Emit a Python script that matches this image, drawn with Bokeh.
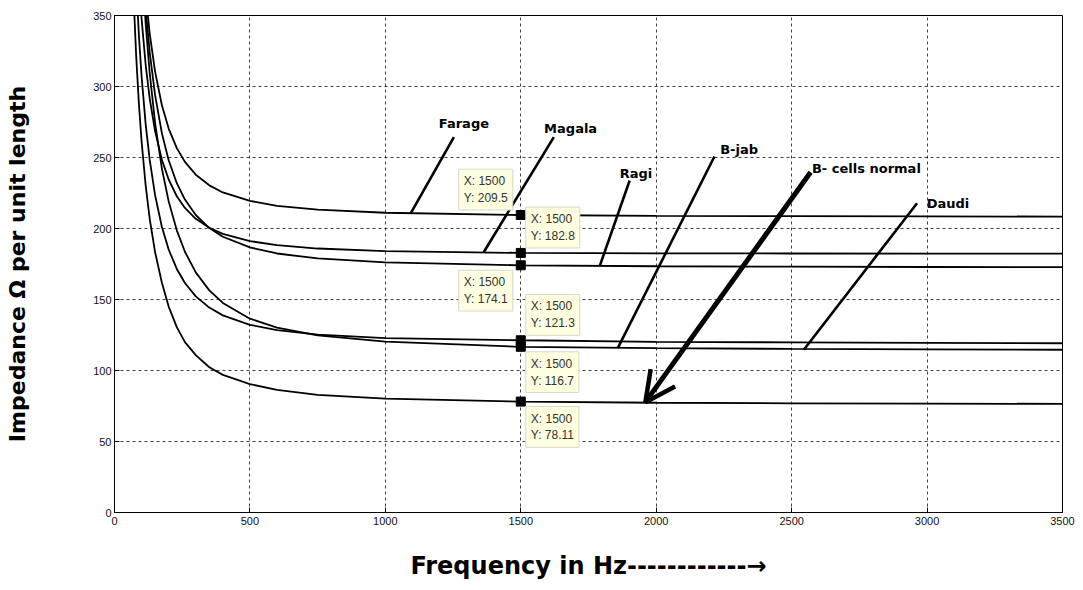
from bokeh.plotting import figure
from bokeh.models import Range1d, Label, Arrow, OpenHead, FixedTicker
from bokeh.embed import file_html
from bokeh.resources import INLINE
from bokeh.core.properties import value

# ---------------- data ----------------
freq = [50, 60, 70, 80, 90, 100, 115, 130, 150, 175, 200, 230, 260, 300, 350,
        400, 500, 600, 750, 1000, 1500, 2000, 2500, 3000, 3500]

farage = [720.7, 611.5, 535.1, 478.9, 436.2, 403.0, 365.2, 337.3, 310.3, 286.8,
          270.4, 256.6, 246.9, 237.9, 230.4, 225.4, 219.4, 216.0, 213.3, 211.1,
          209.5, 208.9, 208.7, 208.5, 208.4]
magala = [619.8, 526.2, 460.6, 412.6, 376.0, 347.6, 315.3, 291.5, 268.4, 248.3,
          234.5, 222.7, 214.5, 206.8, 200.5, 196.2, 191.1, 188.3, 185.9, 184.1,
          182.8, 182.5, 182.4, 182.3, 182.3]
ragi = [733.8, 618.8, 537.8, 478.0, 432.1, 396.1, 354.9, 324.0, 293.7, 267.0,
        248.1, 231.9, 220.4, 209.5, 200.3, 194.2, 186.7, 182.4, 178.9, 176.2,
        174.1, 173.4, 173.1, 172.9, 172.8]
bjab = [578.3, 486.4, 421.4, 373.2, 336.3, 307.1, 273.5, 248.3, 223.3, 201.1,
        185.2, 171.5, 161.6, 152.2, 144.3, 138.8, 132.2, 128.5, 125.3, 122.8,
        121.3, 120.2, 119.8, 119.5, 119.2]
daudi = [756.1, 633.2, 546.0, 480.9, 430.6, 390.8, 344.5, 309.4, 274.1, 242.2,
         219.1, 198.7, 183.6, 169.1, 156.4, 147.6, 136.5, 130.2, 124.7, 120.3,
         116.7, 115.8, 115.2, 114.9, 114.6]
bcells = [505.8, 423.5, 365.1, 321.6, 288.0, 261.3, 230.3, 206.8, 183.2, 161.8,
          145.0, 130.5, 120.0, 110.8, 102.3, 96.9, 90.4, 86.4, 82.9, 80.2,
          78.11, 77.3, 76.9, 76.7, 76.5]

x_ticks = [0, 500, 1000, 1500, 2000, 2500, 3000, 3500]
y_ticks = [0, 50, 100, 150, 200, 250, 300, 350]

# data tips at f = 1500
tip_x = 1500
tip_y = [209.5, 182.8, 174.1, 121.3, 116.7, 78.11]
tip_y_text = ["209.5", "182.8", "174.1", "121.3", "116.7", "78.11"]
tip_side = ["left", "right", "left", "right", "right", "right"]
tip_vert = ["above", "above", "below", "above", "below", "below"]

# curve names and their pointer annotations
label_names = ["Farage", "Magala", "Ragi", "B-jab", "B- cells normal", "Daudi"]
label_x = [1290, 1684, 1925, 2306, 2776, 3077]
label_y = [273.9, 270.4, 238.9, 255.6, 242.3, 217.6]
ptr_x0 = [1253, 1622, 1902, 2215, 2963]
ptr_y0 = [264.3, 264.3, 233.8, 250.7, 217.8]
ptr_x1 = [1093, 1363, 1792, 1858, 2545]
ptr_y1 = [210.4, 183.3, 173.9, 115.7, 114.6]
arrow_start = (2570, 239.6)
arrow_end = (1960, 77.7)

# ---------------- figure ----------------
p = figure(width=1083, height=590, output_backend="svg", toolbar_location=None,
           x_range=Range1d(0, 3500), y_range=Range1d(0, 350),
           min_border_left=114, min_border_right=21, min_border_top=15,
           min_border_bottom=78)
p.background_fill_color = "white"
p.border_fill_color = "white"
p.outline_line_color = "black"
p.outline_line_width = 1
p.outline_line_alpha = 1.0

for ax, ticks in ((p.xaxis, x_ticks), (p.yaxis, y_ticks)):
    ax.ticker = FixedTicker(ticks=ticks)
    ax.major_tick_in = 5
    ax.major_tick_out = 0
    ax.minor_tick_line_color = None
    ax.axis_line_color = "black"
    ax.major_tick_line_color = "black"
    ax.major_label_text_font = "Liberation Sans"
    ax.major_label_text_font_size = "11px"
    ax.major_label_text_color = "#111111"
    ax.major_label_standoff = 4
    ax.axis_label_text_font = "DejaVu Sans"
    ax.axis_label_text_font_style = "bold"
    ax.axis_label_text_color = "black"

p.xaxis.axis_label = "Frequency in Hz------------\u2192"
p.xaxis.axis_label_text_font_size = "24px"
p.xaxis.axis_label_standoff = 24
p.yaxis.axis_label = "Impedance \u03a9 per unit length"
p.yaxis.axis_label_text_font_size = "22px"
p.yaxis.axis_label_standoff = 60
p.yaxis.major_label_standoff = 3

for g in (p.xgrid, p.ygrid):
    g.grid_line_color = "black"
    g.grid_line_alpha = 0.75
    g.grid_line_dash = "3 3"
    g.grid_line_width = 1

for series in (farage, magala, ragi, bjab, daudi, bcells):
    p.line(freq, series, line_color="black", line_width=1.8)

# pointers
p.segment(x0=ptr_x0, y0=ptr_y0, x1=ptr_x1, y1=ptr_y1, line_color="black", line_width=2.6)
p.add_layout(Arrow(end=OpenHead(size=30, line_width=4.5, line_color="black"),
                   x_start=arrow_start[0], y_start=arrow_start[1],
                   x_end=arrow_end[0], y_end=arrow_end[1],
                   line_width=5, line_color="black"))

p.text(x=label_x, y=label_y, text=label_names, text_font=value("DejaVu Sans"),
       text_font_style="bold", text_font_size="13px", text_color="black",
       text_align="center", text_baseline="middle")

# data tips
for yv, yt, side, vert in zip(tip_y, tip_y_text, tip_side, tip_vert):
    horiz = "right" if side == "left" else "left"
    vv = "bottom" if vert == "above" else "top"
    lab = Label(x=tip_x, y=yv, text=f"X: {tip_x}\nY: {yt}",
                x_offset=-8 if side == "left" else 5,
                y_offset=5 if vert == "above" else -5,
                anchor=f"{vv}_{horiz}",
                text_align="left", text_baseline="top",
                text_font="Liberation Sans", text_font_size="12px",
                text_color="#333333", text_line_height=1.2,
                background_fill_color="#ffffe1", background_fill_alpha=1.0,
                border_line_color="#d9d8c4", border_line_width=1,
                padding=5)
    p.add_layout(lab)

p.scatter([tip_x] * len(tip_y), tip_y, marker="square", size=9,
          fill_color="black", line_color="black")

open("out.html", "w").write(file_html(p, INLINE))
